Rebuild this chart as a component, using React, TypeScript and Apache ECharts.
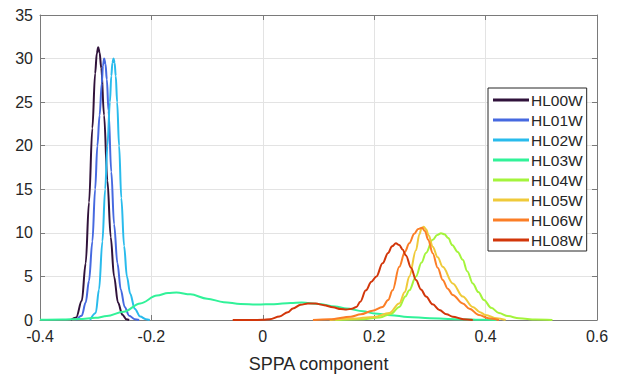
import React, { useEffect, useRef } from "react";
import * as echarts from "echarts";

const SERIES_NAMES = ["HL00W", "HL01W", "HL02W", "HL03W", "HL04W", "HL05W", "HL06W", "HL08W"];
const COLORS = ["#30123b", "#4669e0", "#29bbec", "#31f299", "#a4f43c", "#efca3a", "#fb7e26", "#d2360a"];

const X_TICKS = [-0.4, -0.2, 0, 0.2, 0.4, 0.6];
const Y_TICKS = [0, 5, 10, 15, 20, 25, 30, 35];

const HL00W = [
  [-0.345, 0], [-0.335, 0.3], [-0.325, 2.2], [-0.318, 6.5], [-0.312, 13.5], [-0.306, 22],
  [-0.301, 28.3], [-0.298, 30.6], [-0.2955, 31.3], [-0.293, 30.7], [-0.29, 28.9], [-0.285, 23.5],
  [-0.279, 16], [-0.273, 9.5], [-0.267, 5], [-0.26, 2], [-0.252, 0.6], [-0.245, 0.1], [-0.24, 0],
];
const HL01W = [
  [-0.335, 0], [-0.325, 0.5], [-0.318, 2], [-0.312, 4.5], [-0.306, 9], [-0.301, 15],
  [-0.297, 20], [-0.293, 23.5], [-0.289, 27.2], [-0.287, 29.2], [-0.2848, 30], [-0.2825, 29.4],
  [-0.28, 27.6], [-0.277, 24], [-0.272, 17], [-0.267, 11], [-0.261, 6.5], [-0.255, 3.5],
  [-0.248, 1.5], [-0.24, 0.5], [-0.23, 0.1], [-0.222, 0],
];
const HL02W = [
  [-0.31, 0], [-0.3, 0.8], [-0.294, 3.5], [-0.288, 9], [-0.283, 15], [-0.279, 20],
  [-0.2745, 25], [-0.272, 28], [-0.27, 29.5], [-0.268, 30], [-0.266, 29.5], [-0.264, 28],
  [-0.2615, 25], [-0.258, 20], [-0.254, 14], [-0.249, 8.5], [-0.244, 5], [-0.238, 3],
  [-0.23, 1.3], [-0.22, 0.4], [-0.21, 0.1], [-0.203, 0],
];
const HL03W = [
  [-0.4, 0.02], [-0.36, 0.05], [-0.33, 0.12], [-0.3, 0.25], [-0.28, 0.45], [-0.25, 0.95],
  [-0.22, 1.9], [-0.19, 2.8], [-0.17, 3.1], [-0.155, 3.15], [-0.13, 2.95], [-0.1, 2.45],
  [-0.07, 2.05], [-0.04, 1.85], [-0.01, 1.78], [0.02, 1.82], [0.05, 1.95], [0.07, 2.0],
  [0.1, 1.85], [0.13, 1.55], [0.15, 1.33], [0.18, 1.0], [0.2, 0.75], [0.23, 0.55],
  [0.26, 0.35], [0.3, 0.2], [0.35, 0.1], [0.4, 0.03], [0.42, 0],
];
const HL04W = [
  [0.13, 0], [0.18, 0.1], [0.21, 0.3], [0.23, 0.7], [0.245, 1.5], [0.256, 2.7],
  [0.263, 3.4], [0.275, 5.0], [0.285, 6.6], [0.293, 7.7], [0.305, 9.2], [0.313, 9.75],
  [0.32, 9.95], [0.326, 9.85], [0.333, 9.4], [0.34, 8.6], [0.35, 7.8], [0.359, 6.9],
  [0.367, 5.6], [0.377, 4.2], [0.387, 3.2], [0.397, 2.3], [0.41, 1.4], [0.424, 0.8],
  [0.44, 0.45], [0.46, 0.2], [0.49, 0.05], [0.52, 0],
];
const HL05W = [
  [0.12, 0], [0.16, 0.15], [0.2, 0.35], [0.227, 0.8], [0.245, 1.9], [0.255, 3.2],
  [0.263, 5.0], [0.275, 8.0], [0.281, 9.8], [0.285, 10.5], [0.289, 10.7], [0.293, 10.4],
  [0.298, 9.7], [0.305, 8.4], [0.314, 7.2], [0.323, 6.1], [0.341, 4.2], [0.359, 2.7],
  [0.377, 1.5], [0.39, 0.9], [0.4, 0.57], [0.42, 0.2], [0.436, 0],
];
const HL06W = [
  [0.09, 0], [0.12, 0.1], [0.158, 0.38], [0.176, 0.65], [0.197, 1.07], [0.215, 1.5],
  [0.225, 2.3], [0.233, 3.4], [0.245, 6.1], [0.255, 7.8], [0.263, 8.8], [0.272, 9.9],
  [0.279, 10.45], [0.2858, 10.6], [0.291, 10.2], [0.297, 9.2], [0.305, 7.65], [0.314, 6.0],
  [0.323, 4.6], [0.332, 3.6], [0.341, 2.87], [0.359, 1.9], [0.371, 1.3], [0.388, 0.57],
  [0.405, 0.2], [0.424, 0],
];
const HL08W = [
  [-0.054, 0], [-0.02, 0], [0.0, 0.02], [0.0125, 0.08], [0.03, 0.4], [0.045, 0.9],
  [0.054, 1.33], [0.068, 1.75], [0.081, 1.9], [0.095, 1.88], [0.11, 1.7], [0.126, 1.45],
  [0.14, 1.25], [0.15, 1.2], [0.16, 1.3], [0.168, 1.5], [0.175, 2.1], [0.185, 3.4],
  [0.195, 4.4], [0.204, 5.0], [0.215, 6.5], [0.225, 7.7], [0.232, 8.45], [0.239, 8.8],
  [0.245, 8.6], [0.251, 8.1], [0.257, 7.4], [0.266, 6.0], [0.275, 4.6], [0.284, 3.5],
  [0.293, 2.7], [0.305, 1.8], [0.317, 1.15], [0.33, 0.65], [0.341, 0.38], [0.36, 0.1],
  [0.377, 0],
];

const SERIES_DATA = [HL00W, HL01W, HL02W, HL03W, HL04W, HL05W, HL06W, HL08W];

const FONT = "'Liberation Sans', Arial, Helvetica, sans-serif";
const AXIS_COLOR = "#7a7a7a";
const TEXT_COLOR = "#262626";

export default function App() {
  const ref = useRef<HTMLDivElement>(null);
  useEffect(() => {
    if (!ref.current) return;
    const chart = echarts.init(ref.current, undefined, { renderer: "svg" });
    const xInterval = X_TICKS[1] - X_TICKS[0];
    const yInterval = Y_TICKS[1] - Y_TICKS[0];
    const xMin = X_TICKS[0];
    const xMax = X_TICKS[X_TICKS.length - 1];
    const yMin = Y_TICKS[0];
    const yMax = Y_TICKS[Y_TICKS.length - 1];
    const tickCommon = { show: true, inside: true, length: 5, lineStyle: { color: AXIS_COLOR, width: 1 } };
    const lineCommon = { show: true, onZero: false, lineStyle: { color: AXIS_COLOR, width: 1 } };
    chart.setOption({
      animation: false,
      backgroundColor: "#ffffff",
      textStyle: { fontFamily: FONT },
      grid: { left: 40, right: 22, top: 15, bottom: 54, containLabel: false, outerBoundsMode: "none" },
      legend: {
        orient: "vertical",
        left: 488,
        top: 88,
        data: SERIES_NAMES,
        icon: "rect",
        itemWidth: 36,
        itemHeight: 3,
        itemGap: 4,
        padding: [4, 4, 3, 5],
        borderColor: "#262626",
        borderWidth: 1,
        backgroundColor: "#ffffff",
        textStyle: { fontFamily: FONT, fontSize: 15.5, color: TEXT_COLOR, padding: [0, 0, 0, -3] },
      },
      xAxis: [
        {
          type: "value",
          position: "bottom",
          min: xMin,
          max: xMax,
          interval: xInterval,
          name: "SPPA component",
          nameLocation: "middle",
          nameGap: 35,
          nameTextStyle: { fontFamily: FONT, fontSize: 18, color: TEXT_COLOR },
          axisLine: lineCommon,
          axisTick: tickCommon,
          axisLabel: {
            margin: 8,
            fontSize: 16,
            color: TEXT_COLOR,
            fontFamily: FONT,
            formatter: (v: number) => String(Math.round(v * 10) / 10),
          },
          splitLine: { show: true, lineStyle: { color: "#e3e3e3", width: 1 } },
        },
        {
          type: "value",
          position: "top",
          min: xMin,
          max: xMax,
          interval: xInterval,
          axisLine: lineCommon,
          axisTick: tickCommon,
          axisLabel: { show: false },
          splitLine: { show: false },
        },
      ],
      yAxis: [
        {
          type: "value",
          position: "left",
          min: yMin,
          max: yMax,
          interval: yInterval,
          axisLine: lineCommon,
          axisTick: tickCommon,
          axisLabel: { margin: 7, fontSize: 16, color: TEXT_COLOR, fontFamily: FONT },
          splitLine: { show: true, lineStyle: { color: "#e3e3e3", width: 1 } },
        },
        {
          type: "value",
          position: "right",
          min: yMin,
          max: yMax,
          interval: yInterval,
          axisLine: lineCommon,
          axisTick: tickCommon,
          axisLabel: { show: false },
          splitLine: { show: false },
        },
      ],
      series: SERIES_NAMES.map((name, i) => ({
        name,
        type: "line",
        xAxisIndex: 0,
        yAxisIndex: 0,
        data: SERIES_DATA[i],
        showSymbol: false,
        symbol: "none",
        smooth: 0.35,
        smoothMonotone: "x",
        color: COLORS[i],
        lineStyle: { color: COLORS[i], width: 2 },
        itemStyle: { color: COLORS[i] },
        z: 2 + i,
      })),
    });
    return () => chart.dispose();
  }, []);
  return (
    <div
      ref={ref}
      style={{ position: "absolute", left: 0, top: 0, width: 619, height: 374 }}
    />
  );
}
